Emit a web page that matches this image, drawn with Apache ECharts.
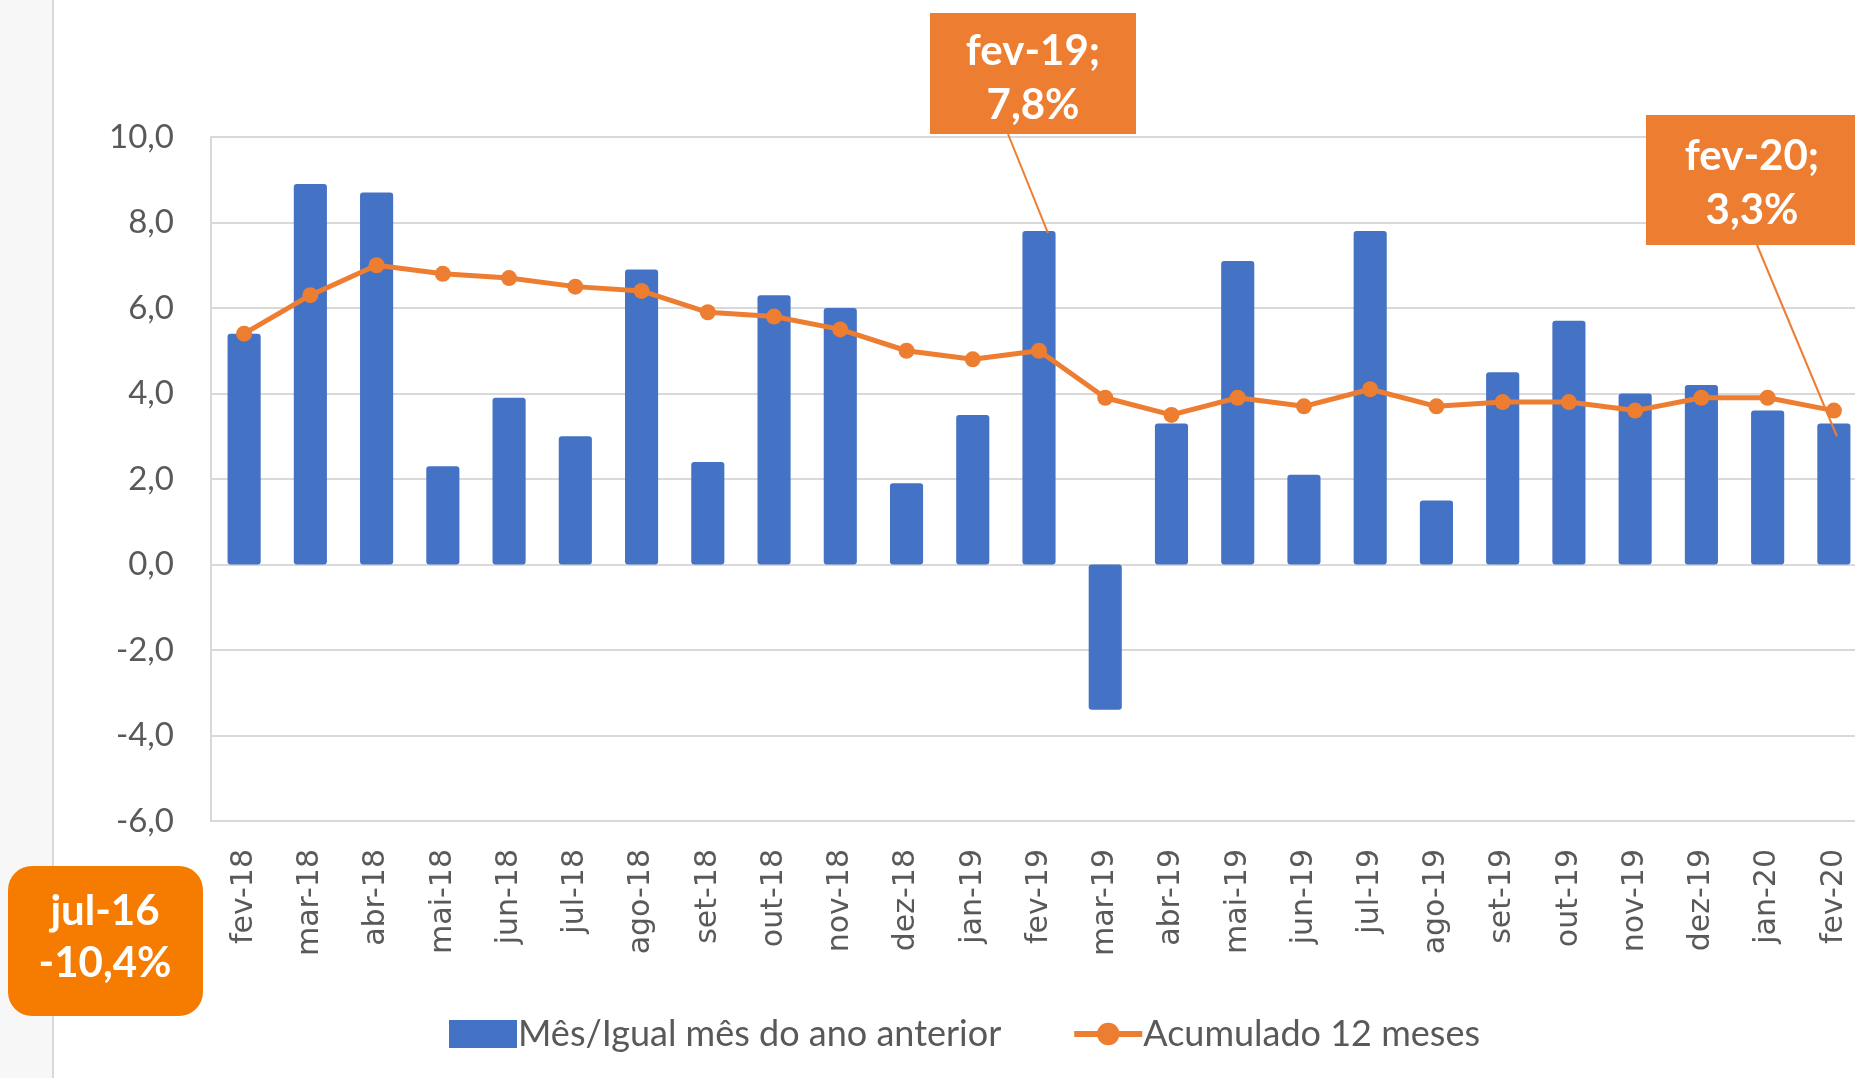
<!DOCTYPE html>
<html>
<head>
<meta charset="utf-8">
<script src="https://cdn.jsdelivr.net/npm/echarts@6/dist/echarts.min.js"></script>
<style>
    html, body { margin: 0; padding: 0; background: #fff; overflow: hidden; }
    #main { width: 1875px; height: 1078px; }
</style>
</head>
<body>
<div id="main"></div>
<script>
    var months = ['fev-18', 'mar-18', 'abr-18', 'mai-18', 'jun-18', 'jul-18', 'ago-18', 'set-18', 'out-18', 'nov-18', 'dez-18', 'jan-19',
                  'fev-19', 'mar-19', 'abr-19', 'mai-19', 'jun-19', 'jul-19', 'ago-19', 'set-19', 'out-19', 'nov-19', 'dez-19', 'jan-20', 'fev-20'];
    var mesIgual = [5.4, 8.9, 8.7, 2.3, 3.9, 3.0, 6.9, 2.4, 6.3, 6.0, 1.9, 3.5,
                    7.8, -3.4, 3.3, 7.1, 2.1, 7.8, 1.5, 4.5, 5.7, 4.0, 4.2, 3.6, 3.3];
    var acum12 = [5.4, 6.3, 7.0, 6.8, 6.7, 6.5, 6.4, 5.9, 5.8, 5.5, 5.0, 4.8,
                  5.0, 3.9, 3.5, 3.9, 3.7, 4.1, 3.7, 3.8, 3.8, 3.6, 3.9, 3.9, 3.6];
    var yMin = -6, yMax = 10, yStep = 2;
    var seriesNames = ['Mês/Igual mês do ano anterior', 'Acumulado 12 meses'];

    var blue = '#4472C4';
    var orange = '#ED7D31';
    var textGray = '#595959';
    var gridGray = '#d9d9d9';

    // chart is a bit wider than the window, the last column gets cut like in the original
    var my_chart = echarts.init(document.getElementById('main'));

    function fmt(v) {
        return v.toFixed(1).replace('.', ',');
    }

    var option = {
        animation: false,
        backgroundColor: '#fff',
        grid: { left: 211, right: 8, top: 137, bottom: 257 },
        legend: {
            left: 444,
            top: 1011,
            itemWidth: 68,
            itemHeight: 28,
            itemGap: 70,
            textStyle: { color: textGray, fontSize: 36, fontFamily: 'Lato', padding: [0, 0, 0, -4] },
            data: [
                { name: seriesNames[0], icon: 'rect' },
                { name: seriesNames[1], lineStyle: { width: 6 } }
            ]
        },
        xAxis: {
            type: 'category',
            data: months,
            boundaryGap: true,
            axisLine: { onZero: false, lineStyle: { color: gridGray, width: 2 } },
            axisTick: { show: false },
            axisLabel: { rotate: 90, margin: 28, color: textGray, fontSize: 30, fontFamily: 'DejaVu Sans', interval: 0 }
        },
        yAxis: {
            type: 'value',
            min: yMin,
            max: yMax,
            interval: yStep,
            axisLine: { show: true, lineStyle: { color: gridGray, width: 2 } },
            axisTick: { show: false },
            splitLine: { lineStyle: { color: gridGray, width: 2 } },
            axisLabel: { margin: 37, color: textGray, fontSize: 33, fontFamily: 'Lato', formatter: fmt }
        },
        series: [
            {
                name: seriesNames[0],
                type: 'bar',
                data: mesIgual,
                barWidth: '50%',
                itemStyle: { color: blue, borderRadius: 3 }
            },
            {
                name: seriesNames[1],
                type: 'line',
                data: acum12,
                symbol: 'circle',
                symbolSize: 16,
                lineStyle: { color: orange, width: 5 },
                itemStyle: { color: orange }
            }
        ]
    };
    my_chart.setOption(option);

    // leader lines point at the bars
    var p19 = my_chart.convertToPixel({ seriesIndex: 0 }, ['fev-19', 7.8]);
    var p20 = my_chart.convertToPixel({ seriesIndex: 0 }, ['fev-20', 3.0]);

    var boxFont = { fill: '#fff', fontSize: 42, fontWeight: 'bold', fontFamily: 'Lato', lineHeight: 54, align: 'center', verticalAlign: 'middle' };

    my_chart.setOption({
        graphic: [
            { type: 'rect', z: 0, silent: true, shape: { x: 0, y: 0, width: 53, height: 1078 }, style: { fill: '#f7f7f7' } },
            { type: 'line', z: 0, silent: true, shape: { x1: 53, y1: 0, x2: 53, y2: 1078 }, style: { stroke: gridGray, lineWidth: 2 } },

            { type: 'line', z: 100, shape: { x1: 1008, y1: 134, x2: p19[0] + 9, y2: p19[1] + 2 }, style: { stroke: orange, lineWidth: 2 } },
            { type: 'rect', z: 100, shape: { x: 930, y: 13, width: 206, height: 121 }, style: { fill: orange } },
            { type: 'text', z: 101, x: 1033, y: 78, style: Object.assign({ text: 'fev-19;\n7,8%' }, boxFont) },

            { type: 'line', z: 100, shape: { x1: 1757, y1: 245, x2: p20[0] + 3, y2: p20[1] }, style: { stroke: orange, lineWidth: 2 } },
            { type: 'rect', z: 100, shape: { x: 1646, y: 115, width: 230, height: 130 }, style: { fill: orange } },
            { type: 'text', z: 101, x: 1752, y: 183, style: Object.assign({ text: 'fev-20;\n3,3%' }, boxFont) },

            { type: 'rect', z: 100, shape: { x: 8, y: 866, width: 195, height: 150, r: 24 }, style: { fill: '#F57C00' } },
            { type: 'text', z: 101, x: 105, y: 937, style: Object.assign({ text: 'jul-16\n-10,4%' }, boxFont, { lineHeight: 52 }) }
        ]
    });
</script>
</body>
</html>
